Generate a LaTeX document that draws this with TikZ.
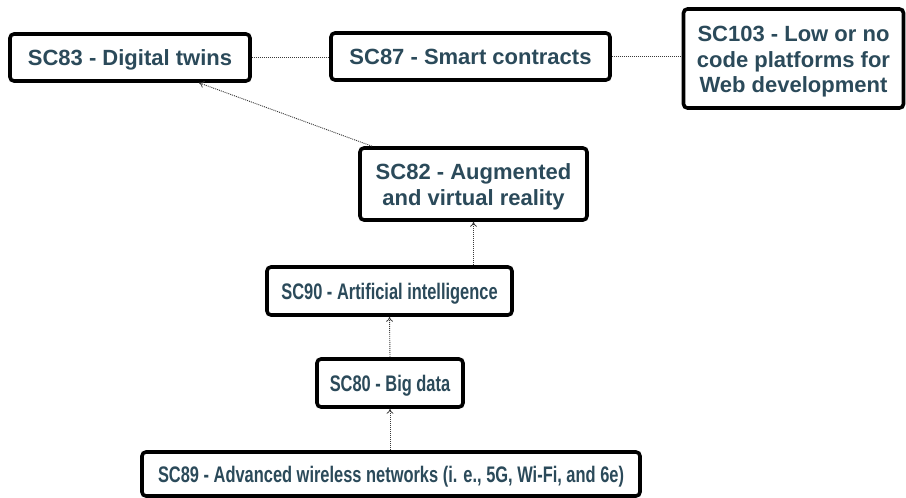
\documentclass[tikz,border=0pt]{standalone}
\usepackage{fontspec}
\setmainfont{Liberation Sans}
\newfontfamily\condfont{Liberation Sans}[FakeStretch=0.73]
\usetikzlibrary{arrows.meta}
\definecolor{labelink}{HTML}{2B4A5A}
\definecolor{linkgray}{HTML}{3A3A3A}
% strut that lowers a multi-line label so its capitals sit centred in the box
\newcommand{\capsdrop}{\rule{0pt}{22pt}}
\tikzset{
  scbox/.style={draw=black, line width=3.6pt, rounded corners=4pt, fill=white,
    text=labelink, font=\bfseries\fontsize{22}{25.5}\selectfont,
    align=center, inner sep=0pt},
  oneline/.style={text height=15.75pt, text depth=0pt},
  scnarrow/.style={scbox, font=\condfont\bfseries\fontsize{22.5}{25.5}\selectfont,
    text height=16.1pt, text depth=0pt},
  link/.style={draw=linkgray, line width=0.9pt, dash pattern=on 1pt off 1pt},
  uplink/.style={link, -{To[length=5pt,width=7pt,line width=0.8pt]}}
}
\begin{document}
\begin{tikzpicture}[x=1pt,y=-1pt]
\useasboundingbox (0,0) rectangle (906,498);

\node[scbox, oneline, minimum width=240pt, minimum height=47pt] (sc83) at (130,57.5) {SC83 - Digital twins};
\node[scbox, oneline, minimum width=279pt, minimum height=47pt] (sc87) at (470.5,56.5) {SC87 - Smart contracts};
\node[scbox, minimum width=220pt, minimum height=99pt] (sc103) at (793.5,58.5) {\capsdrop SC103 - Low or no\\code platforms for\\Web development};
\node[scbox, minimum width=227pt, minimum height=72pt] (sc82) at (473.5,184) {\capsdrop SC82 - Augmented\\and virtual reality};
\node[scnarrow, minimum width=245pt, minimum height=48pt] (sc90) at (389.5,291) {SC90 - Artificial intelligence};
\node[scnarrow, minimum width=146pt, minimum height=48pt] (sc80) at (390,383) {SC80 - Big data};
\node[scnarrow, minimum width=498pt, minimum height=44pt] (sc89) at (391,474) {SC89 - Advanced wireless networks (i. e., 5G, Wi-Fi, and 6e)};

% peer links along the top row
\draw[link] (sc83.east) -- (sc87.west |- sc83.east);
\draw[link] (sc87.east) -- (sc103.west |- sc87.east);

% dependency chain, pointing upward
\draw[uplink] (sc89.north -| sc80.south) -- (sc80.south);
\draw[uplink] (sc80.north) -- (sc90.south);
\draw[uplink] (sc90.north -| sc82.south) -- (sc82.south);
\draw[uplink] ([xshift=-101.5pt]sc82.north) -- ([xshift=69pt]sc83.south);
\end{tikzpicture}
\end{document}
